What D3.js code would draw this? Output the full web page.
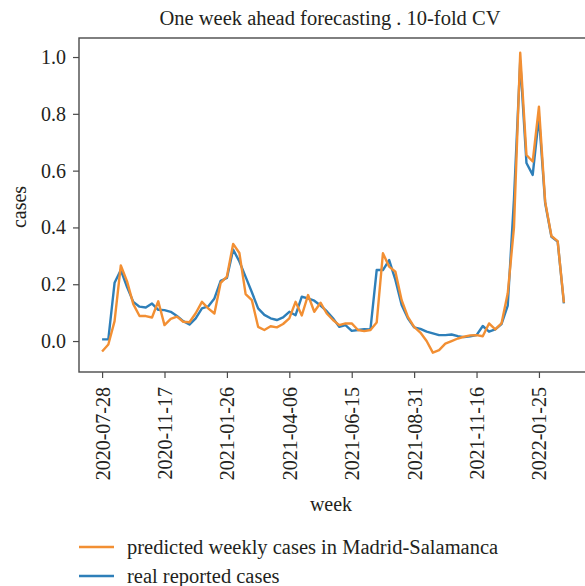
<!DOCTYPE html>
<html><head><meta charset="utf-8">
<script src="https://cdn.jsdelivr.net/npm/d3@7"></script>
<style>
  body { margin: 0; background: #fff; }
  svg { display: block; }
  text { font-family: "Liberation Serif", "DejaVu Serif", serif; fill: #231f20; }
</style>
</head><body>
<script>
// Week labels shown on the x axis, one every `labelEvery` samples
const weekLabels = ["2020-07-28", "2020-11-17", "2021-01-26", "2021-04-06",
                    "2021-06-15", "2021-08-31", "2021-11-16", "2022-01-25"];
const labelEvery = 10;

// Normalised weekly cases, one value per sample
const predicted = [
  -0.037, -0.012, 0.070, 0.266, 0.210, 0.130, 0.088, 0.088, 0.083, 0.140,
   0.056,  0.078, 0.086, 0.068, 0.066, 0.098, 0.138, 0.115, 0.097, 0.205,
   0.227,  0.342, 0.310, 0.165, 0.144, 0.050, 0.039, 0.052, 0.048, 0.060,
   0.080,  0.138, 0.090, 0.162, 0.103, 0.135, 0.097, 0.074, 0.056, 0.062,
   0.062,  0.039, 0.035, 0.039, 0.065, 0.309, 0.262, 0.244, 0.144, 0.085,
   0.050,  0.030, 0.000, -0.041, -0.032, -0.009, 0.000, 0.009, 0.015, 0.020,
   0.021,  0.017, 0.062, 0.041, 0.062, 0.168, 0.400, 1.015, 0.655, 0.632,
   0.825,  0.490, 0.370, 0.352, 0.135
];
const real = [
   0.006, 0.006, 0.205, 0.250, 0.190, 0.138, 0.121, 0.118, 0.132, 0.110,
   0.109, 0.103, 0.088, 0.070, 0.058, 0.080, 0.115, 0.122, 0.150, 0.212,
   0.222, 0.322, 0.280, 0.226, 0.172, 0.115, 0.092, 0.080, 0.074, 0.083,
   0.103, 0.091, 0.156, 0.150, 0.142, 0.125, 0.105, 0.080, 0.050, 0.056,
   0.036, 0.039, 0.042, 0.041, 0.250, 0.250, 0.285, 0.215, 0.127, 0.080,
   0.048, 0.043, 0.033, 0.027, 0.021, 0.021, 0.023, 0.017, 0.014, 0.017,
   0.021, 0.053, 0.033, 0.041, 0.060, 0.125, 0.500, 0.985, 0.627, 0.585,
   0.790, 0.485, 0.367, 0.350, 0.133
];
const yTicks = [0.0, 0.2, 0.4, 0.6, 0.8, 1.0];
const yDomain = [-0.109, 1.067];

const W = 585, H = 586;
const frame = { left: 79, right: 587, top: 38, bottom: 372 };
const orange = "#f28f33", blue = "#2e7fb9";
const ink = "#231f20", axisGrey = "#4a4a4a";

const svg = d3.select("body").append("svg").attr("width", W).attr("height", H);

const n = real.length;
const pad = (n - 1) * 0.05;
const x = d3.scaleLinear().domain([-pad, n - 1 + pad]).range([frame.left, frame.right]);
const y = d3.scaleLinear().domain(yDomain).range([frame.bottom, frame.top]);

svg.append("clipPath").attr("id", "plot-clip")
  .append("rect")
  .attr("x", frame.left).attr("y", frame.top)
  .attr("width", frame.right - frame.left).attr("height", frame.bottom - frame.top);

// Series lines
const line = d3.line().x((d, i) => x(i)).y(d => y(d));
const plot = svg.append("g").attr("clip-path", "url(#plot-clip)");
plot.append("path").datum(real)
  .attr("d", line).attr("fill", "none")
  .attr("stroke", blue).attr("stroke-width", 2.4).attr("stroke-linejoin", "round");
plot.append("path").datum(predicted)
  .attr("d", line).attr("fill", "none")
  .attr("stroke", orange).attr("stroke-width", 2.4).attr("stroke-linejoin", "round");

// Frame
svg.append("rect")
  .attr("x", frame.left).attr("y", frame.top)
  .attr("width", frame.right - frame.left).attr("height", frame.bottom - frame.top)
  .attr("fill", "none").attr("stroke", axisGrey).attr("stroke-width", 1.4);

// Y axis
const yAxis = svg.append("g")
  .attr("transform", `translate(${frame.left},0)`)
  .call(d3.axisLeft(y).tickValues(yTicks).tickFormat(d3.format(".1f")).tickSize(6).tickPadding(7));
yAxis.select(".domain").remove();
yAxis.selectAll(".tick line").attr("stroke", axisGrey).attr("stroke-width", 1.2);
yAxis.selectAll(".tick text").attr("font-size", 20).attr("font-family", "Liberation Serif").attr("fill", ink);

// X axis
const xTickIdx = weekLabels.map((_, i) => i * labelEvery);
const xAxis = svg.append("g")
  .attr("transform", `translate(0,${frame.bottom})`)
  .call(d3.axisBottom(x).tickValues(xTickIdx)
    .tickFormat((d, i) => weekLabels[i]).tickSize(6).tickPadding(5));
xAxis.select(".domain").remove();
xAxis.selectAll(".tick line").attr("stroke", axisGrey).attr("stroke-width", 1.2);
xAxis.selectAll(".tick text")
  .attr("font-size", 20).attr("font-family", "Liberation Serif").attr("fill", ink)
  .attr("text-anchor", "end")
  .attr("transform", "rotate(-90)")
  .attr("x", -15).attr("y", 0).attr("dy", "0.35em");

// Titles
svg.append("text").attr("x", 330).attr("y", 25)
  .attr("text-anchor", "middle").attr("font-size", 20.5)
  .text("One week ahead forecasting . 10-fold CV");
svg.append("text").attr("x", 331).attr("y", 511)
  .attr("text-anchor", "middle").attr("font-size", 20)
  .text("week");
svg.append("text")
  .attr("transform", `translate(26,${(frame.top + frame.bottom) / 2 + 2}) rotate(-90)`)
  .attr("text-anchor", "middle").attr("font-size", 20)
  .text("cases");

// Legend
const legendItems = [
  { label: "predicted weekly cases in Madrid-Salamanca", color: orange },
  { label: "real reported cases", color: blue }
];
const legend = svg.append("g");
legendItems.forEach((d, i) => {
  const ly = 547 + i * 29;
  legend.append("line")
    .attr("x1", 79).attr("x2", 114).attr("y1", ly).attr("y2", ly)
    .attr("stroke", d.color).attr("stroke-width", 2.4);
  legend.append("text")
    .attr("x", 127).attr("y", ly).attr("dy", "0.33em")
    .attr("font-size", 20.5).text(d.label);
});
</script>
</body></html>
